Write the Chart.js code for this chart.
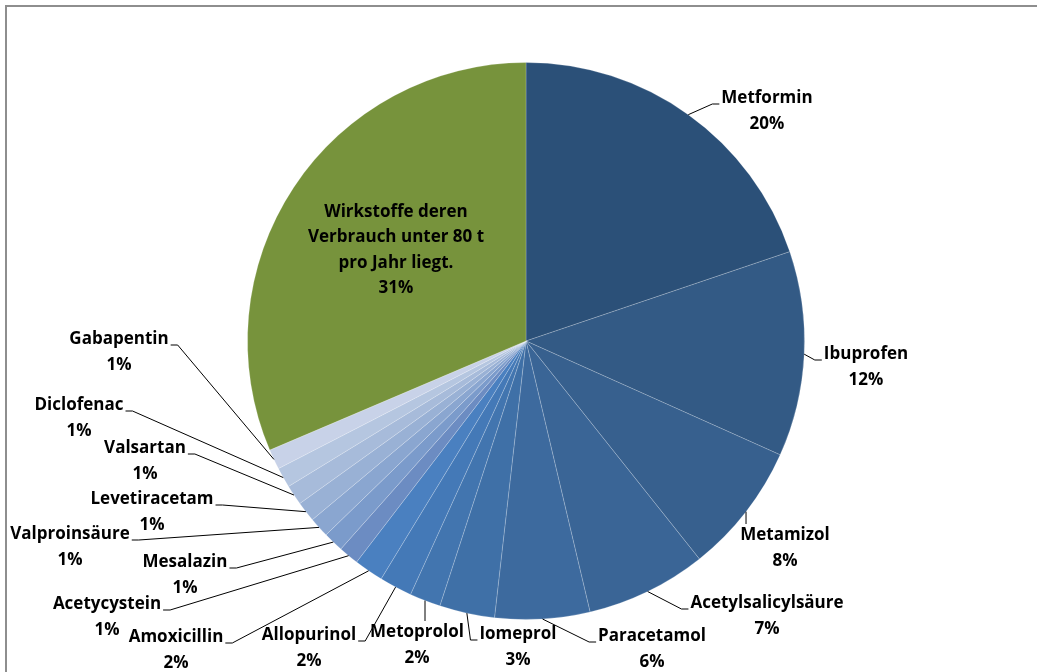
<!DOCTYPE html>
<html>
<head>
<meta charset="utf-8">
<script src="https://cdn.jsdelivr.net/npm/chart.js@4"></script>
<style>
  body { margin: 0; background: #fff; }
  #frame { position: absolute; left: 5px; top: 5px; width: 1032px; height: 667px;
           border-top: 2px solid #8e8e8e; border-left: 2px solid #8e8e8e; }
  #pie { position: absolute; left: 0; top: 0; }
</style>
</head>
<body>
<div id="frame"></div>
<canvas id="pie" width="1037" height="672"></canvas>
<script>
// slices, clockwise from 12 o'clock
let names = ['Metformin', 'Ibuprofen', 'Metamizol', 'Acetylsalicylsäure', 'Paracetamol', 'Iomeprol',
  'Metoprolol', 'Allopurinol', 'Amoxicillin', 'Acetycystein', 'Mesalazin', 'Valproinsäure',
  'Levetiracetam', 'Valsartan', 'Diclofenac', 'Gabapentin',
  ['Wirkstoffe deren', 'Verbrauch unter 80 t', 'pro Jahr liegt.']];
let shares = [19.8, 11.9, 7.6, 7.0, 5.5, 3.2, 1.8, 1.9, 1.7, 1.17, 1.17, 1.17, 1.17, 1.17, 1.17, 1.17, 31.4];
let sliceColors = ['#2b5078', '#335a85', '#37608e', '#3a6596', '#3d6a9e', '#3f70a7', '#4275af', '#4479b7',
  '#4a80c0', '#6c8cc2', '#7b9bcb', '#8aa6d0', '#99b1d5', '#a7bbda', '#b5c6e0', '#c8d2e8', '#77933c'];

// where each label sits (name line centre) and which side the leader line comes in from
let labelPos = [[767, 98, 'l'], [866, 354, 'l'], [785, 535, 't'], [767, 603, 'l'], [652, 636, 'l'],
  [518, 634, 'l'], [417, 632, 't'], [309, 635, 'r'], [176, 637, 'r'], [107, 604, 'r'], [185, 562, 'r'],
  [70, 534, 'r'], [152, 499, 'r'], [145, 448, 'r'], [79, 405, 'r'], [119, 339, 'r'], [396, 212, 'in']];

const pieLabels = {
  id: 'pieLabels',
  afterDatasetsDraw(chart) {
    const ctx = chart.ctx;
    const meta = chart.getDatasetMeta(0);
    const total = shares.reduce((a, b) => a + b, 0);
    ctx.save();
    ctx.font = 'bold 17px "Open Sans"';
    ctx.fillStyle = '#000';
    ctx.strokeStyle = '#000';
    ctx.lineWidth = 1;
    ctx.textAlign = 'center';
    ctx.textBaseline = 'middle';
    meta.data.forEach((arc, i) => {
      const p = arc.getProps(['x', 'y', 'startAngle', 'endAngle', 'outerRadius']);
      const mid = (p.startAngle + p.endAngle) / 2;
      const ax = p.x + Math.cos(mid) * p.outerRadius;
      const ay = p.y + Math.sin(mid) * p.outerRadius;
      const [lx, ly, side] = labelPos[i];
      const pct = Math.round(shares[i] / total * 100) + '%';
      const lines = [].concat(names[i]);
      if (side === 'in') {
        lines.concat([pct]).forEach((t, k) => ctx.fillText(t, lx, ly + k * 25.5));
        return;
      }
      const w = ctx.measureText(lines[0]).width;
      ctx.beginPath();
      if (side === 'l') {
        const tx = lx - w / 2 - 2;
        ctx.moveTo(ax, ay); ctx.lineTo(tx - 7, ly + 6); ctx.lineTo(tx, ly + 6);
      } else if (side === 'r') {
        const tx = lx + w / 2 + 2;
        ctx.moveTo(ax, ay); ctx.lineTo(tx + 7, ly + 6); ctx.lineTo(tx, ly + 6);
      } else {
        ctx.moveTo(ax, ay); ctx.lineTo(ax, ly - 11);
      }
      ctx.stroke();
      ctx.fillText(lines[0], lx, ly);
      ctx.fillText(pct, lx, ly + 26);
    });
    ctx.restore();
  }
};

new Chart(document.getElementById('pie'), {
  type: 'pie',
  data: {
    labels: names,
    datasets: [{
      data: shares,
      backgroundColor: sliceColors,
      borderColor: 'rgba(255,255,255,0.2)',
      borderWidth: 1
    }]
  },
  options: {
    responsive: false,
    animation: false,
    layout: { padding: { top: 62, bottom: 52, left: 247, right: 232 } },
    plugins: {
      legend: { display: false },
      tooltip: { enabled: false }
    }
  },
  plugins: [pieLabels]
});
</script>
</body>
</html>
